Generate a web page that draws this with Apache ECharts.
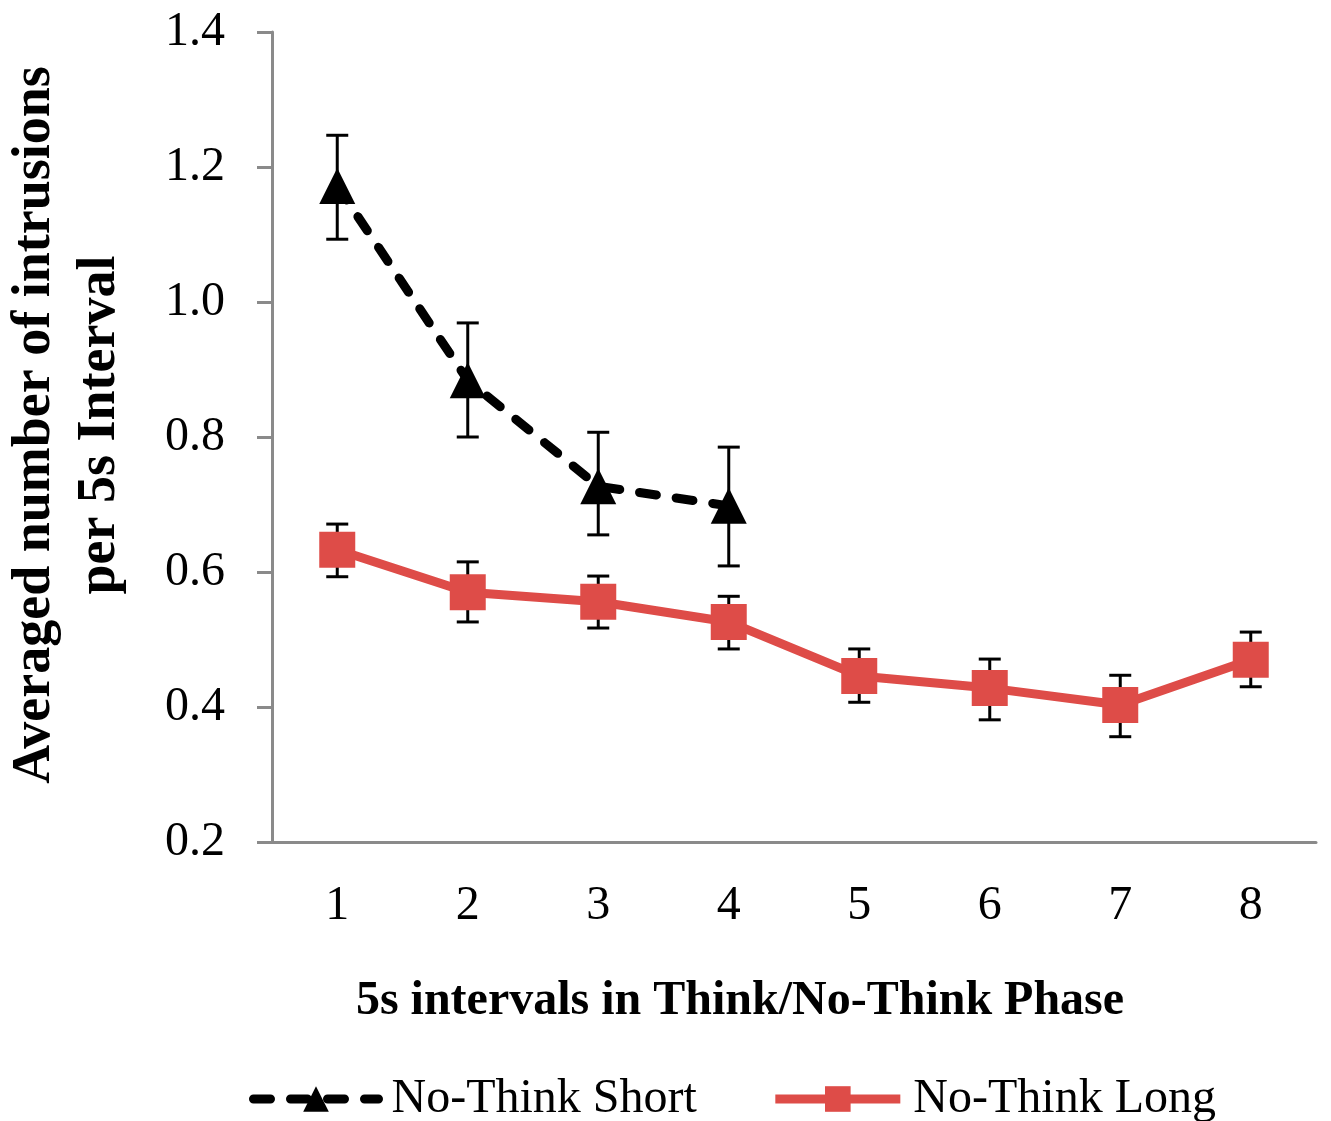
<!DOCTYPE html>
<html>
<head>
<meta charset="utf-8">
<script src="https://cdn.jsdelivr.net/npm/echarts@6/dist/echarts.min.js"></script>
<style>
html,body{margin:0;padding:0;background:#fff;}
#main{width:1331px;height:1121px;}
</style>
</head>
<body>
<div id="main"></div>
<script>
var categories = ['1','2','3','4','5','6','7','8'];
var shortMean = [1.172, 0.884, 0.727, 0.698];
var shortLow  = [1.093, 0.800, 0.655, 0.609];
var shortHigh = [1.247, 0.969, 0.807, 0.785];
var longMean = [0.633, 0.570, 0.556, 0.526, 0.446, 0.428, 0.403, 0.470];
var longLow  = [0.593, 0.526, 0.517, 0.486, 0.407, 0.381, 0.356, 0.430];
var longHigh = [0.671, 0.615, 0.594, 0.564, 0.486, 0.471, 0.447, 0.511];

var red = '#DE4C48';
var serif = '"Liberation Serif","DejaVu Serif",serif';
var dash = [17,20];

function errData(low, high){
	var out = [];
	for(var i=0;i<low.length;i++){
		out.push([i, low[i], high[i]]);
	}
	return out;
}

function renderErr(params, api){
	var x = api.value(0);
	var lo = api.coord([x, api.value(1)]);
	var hi = api.coord([x, api.value(2)]);
	var w = 11;
	var st = {stroke:'#000', lineWidth:3};
	return {
		type:'group',
		children:[
			{type:'line', shape:{x1:lo[0],y1:lo[1],x2:hi[0],y2:hi[1]}, style:st},
			{type:'line', shape:{x1:lo[0]-w,y1:lo[1],x2:lo[0]+w,y2:lo[1]}, style:st},
			{type:'line', shape:{x1:hi[0]-w,y1:hi[1],x2:hi[0]+w,y2:hi[1]}, style:st}
		]
	};
}

var myChart = echarts.init(document.getElementById('main'));
myChart.setOption({
	animation:false,
	backgroundColor:'#fff',
	grid:{left:272, right:15, top:32, bottom:279, outerBoundsMode:'none', containLabel:false},
	legend:{
		top:1070,
		left:244,
		itemWidth:125,
		itemHeight:32,
		itemGap:74,
		data:[
			{name:'No-Think Short', lineStyle:{width:9, type:dash, cap:'round', color:'#000'}},
			{name:'No-Think Long', lineStyle:{width:9, color:red}}
		],
		textStyle:{fontFamily:serif, fontSize:48, color:'#000', padding:[0,0,0,8]}
	},
	xAxis:{
		type:'category',
		data:categories,
		boundaryGap:true,
		name:'5s intervals in Think/No-Think Phase',
		nameLocation:'middle',
		nameGap:136,
		nameTextStyle:{fontFamily:serif, fontSize:48, fontWeight:'bold', color:'#000', padding:[0,108,0,0]},
		axisLine:{lineStyle:{color:'#8a8a8a', width:3}},
		axisTick:{length:15, lineStyle:{color:'#8a8a8a', width:3}},
		axisLabel:{fontFamily:serif, fontSize:48, color:'#000', margin:40}
	},
	yAxis:{
		type:'value',
		min:0.2,
		max:1.4,
		interval:0.2,
		name:'Averaged number of intrusions\nper 5s Interval',
		nameLocation:'middle',
		nameRotate:90,
		nameGap:139,
		nameTextStyle:{fontFamily:serif, fontSize:54, fontWeight:'bold', color:'#000', lineHeight:65, padding:[0,0,0,24]},
		splitLine:{show:false},
		axisLine:{show:true, lineStyle:{color:'#8a8a8a', width:3}},
		axisTick:{show:true, length:15, lineStyle:{color:'#8a8a8a', width:3}},
		axisLabel:{fontFamily:serif, fontSize:48, color:'#000', margin:47,
			formatter:function(v){return v.toFixed(1);}}
	},
	series:[
		{
			type:'custom',
			renderItem:renderErr,
			data:errData(longLow, longHigh),
			z:1,
			silent:true
		},
		{
			type:'custom',
			renderItem:renderErr,
			data:errData(shortLow, shortHigh),
			z:1,
			silent:true
		},
		{
			name:'No-Think Short',
			type:'line',
			data:shortMean,
			z:3,
			symbol:'triangle',
			symbolSize:36,
			itemStyle:{color:'#000'},
			lineStyle:{color:'#000', width:9, type:dash, cap:'round'}
		},
		{
			name:'No-Think Long',
			type:'line',
			data:longMean,
			z:3,
			symbol:'rect',
			symbolSize:36,
			itemStyle:{color:red},
			lineStyle:{color:red, width:9}
		}
	]
});
</script>
</body>
</html>
